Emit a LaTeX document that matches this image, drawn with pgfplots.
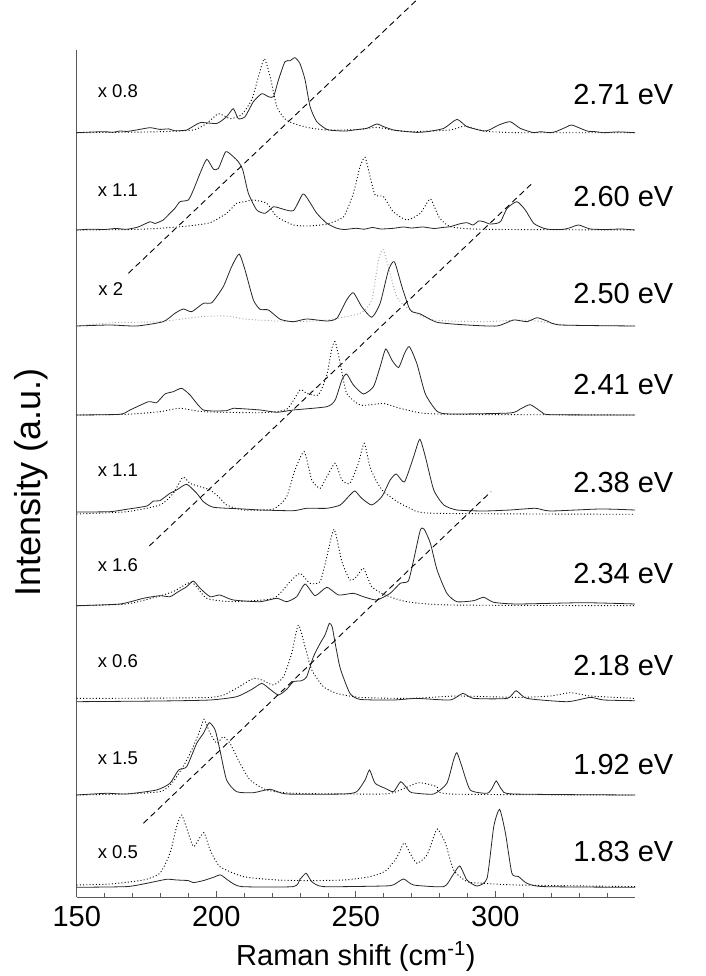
\documentclass[border=0pt]{standalone}
\usepackage{pgfplots}
\pgfplotsset{compat=1.18}
\usepackage{pgfplotstable}
\usepackage{fontspec}
\setmainfont{Liberation Sans}

% ---- 2.71 eV (baseline offset 764.3)
\pgfplotstableread{
x h
150 0
155 0.6
160 1
163 0.4
165.5 1.7
168 1.2
172 3
176.3 5
179.8 3.3
183 3.8
185 2
189.4 2.7
194.2 10
200.2 9.3
203.7 16
206.1 24
207.9 14
210.3 16
213.3 31
216.3 39
218.7 36
220.5 36
222.3 53
224.6 71
226.4 72
228.2 75
230.0 69
231.8 53
233.6 26
236.0 11
239.6 3.3
243 2
246.7 1.7
250 3
253.9 4.3
257.5 8.7
260 6
263.5 2.7
267 1.5
271.9 0.3
276 1.2
281.5 4.3
286.2 13.3
289.8 6
295.8 1.7
298 3
301.2 7.7
305.3 11
308.9 4.3
313.7 0
316 1
319.7 0
322 1.5
325.7 6
327.4 7.7
332.8 1.7
336 1
338.8 0
344 0.8
350 0
}\sA
\pgfplotstableread{
x h
150 0
170 0.5
179.8 1
191.8 2.7
196.6 9.3
200.8 19
205 14
209.1 18
212.7 33
215.1 56
217.2 74
219.3 56
221.7 26
224.5 14
227.6 9.3
233 5
239.6 2.7
250 3
257.5 5.3
263.5 2.5
269.4 1
283.8 2.7
289.2 6.7
295.8 1.7
307.7 0
350 0
}\dA
% ---- 2.60 eV (offset 667)
\pgfplotstableread{
x h
150 0
155 0.8
160 0.5
164 1.5
167.9 0.7
172 3
176.3 8.3
178 6.5
181 10
183.4 16.7
185.2 21.7
187 28.3
190 30
191.8 40
194.2 56.7
196.6 70.7
199 60.7
200.8 61.7
203.4 78.3
206.1 73.3
207.9 68.3
209.5 60
211.5 36.7
214.5 20
217.5 16.7
220.5 23.3
222.9 21.7
227.6 19.3
231 36
233 30
236 16.7
239.6 6.7
243.2 1.7
246 0.5
250 1.7
253 0.8
256 2.5
259 1
263.5 1.7
267 3
270 2
274 3
278 1.5
281 2.5
283.8 3.3
287 6
289.8 7.3
292 5
294 9
295.8 8.3
298 6
300.6 6.7
302 9
304.2 21.7
307.7 28.3
310.7 20
313.7 6.7
317.3 1.7
320 0.5
324.5 0.7
327 2.5
329.8 5
334 1
340 0.5
345 1
350 0
}\sB
\pgfplotstableread{
x h
150 0
170 0.5
179.8 1.7
190 4
197.8 7.3
203.7 16.7
207.3 26.7
210.3 28.3
213.3 30
218.1 26.7
221.7 13.3
227.6 5
233 4
239.6 6
245.6 13.3
249.1 36.7
251.5 63.3
253.3 72.7
255.1 53.3
256.9 35
259.9 33.3
263.5 18
268.3 10
273.1 16.7
276.7 31
279.7 13.3
283.8 3.3
295.8 0.7
350 0
}\dB
% ---- 2.50 eV (offset 571)
\pgfplotstableread{
x h
150 0
161.9 1
171.5 0
181 4.3
185.2 12.7
188.2 17
191.2 14.3
195.4 22.7
198.4 23.3
202.5 39.3
205.5 59.3
208.2 72
210.3 56
213.3 26
215.7 16.7
218.7 16
222.9 6.7
227.6 4.3
232.4 7
239.6 5
243.2 7.7
246.7 26
249.1 33.3
252.1 19.3
255.7 8.7
258.7 22.7
261.7 56
263.8 64.3
266.5 39.3
268.9 19.3
270.1 14.3
273.1 12
279.1 3.7
289.8 1
300.6 0
306.5 6
311.3 4.3
314.9 8.3
318.5 5
323.3 1
350 0
}\sC
\pgfplotstableread{
x h
150 0
163.1 3.3
179.8 4.3
194.2 9.3
203.7 10
210.9 6.7
227.6 4.3
239.6 6
251.5 12.7
255.7 26
258.1 66
259.7 76.7
261.7 59
264.7 29
269.5 16
277.9 6
295.8 4.3
307.7 6
314.9 5
325.7 1
350 0
}\dC
% ---- 2.41 eV (offset 482)
\pgfplotstableread{
x h
150 0
165.5 0.7
169.1 5
175.7 13.3
178.6 12.3
181.6 21
184.6 23.3
187.6 26.7
190.6 20
195.4 5
203.7 4.3
206.1 6.7
215.7 5
221.7 2.7
227.6 5
239.6 8.3
242.6 15
245 35
246.7 41
249.1 30
252.7 21
256.3 28.3
258.7 48.3
260.7 66
262.9 55
265.3 47.5
267.5 62
269.2 68.3
271.9 51
274.9 21
279.1 3.7
283.8 1
305.3 2
308.9 6
312.5 10.3
316.7 2.7
319.7 0.3
350 0
}\sD
\pgfplotstableread{
x h
150 0
167.9 0.7
179.8 3.3
187 6.7
195.4 3.3
215.7 2.3
225.2 5.7
230 25
232.4 21.7
236.6 20
239.6 40
241.4 66.7
242.6 73.3
244.4 51.7
246.7 21.7
251.5 10
256 10.5
260 11.5
265.9 6.7
274.3 1.7
290 0.5
350 0
}\dD
% ---- 2.38 eV (offset 385)
\pgfplotstableread{
x h
150 0
161.9 0.3
167.9 2.7
175.1 6
177.5 11
179.8 11.3
183.4 18.7
185.8 22
189.4 27.7
193 18.7
195.4 10.3
199 4.7
209.7 3
215.7 2
227.6 1.3
232.4 3.7
239.6 3.7
244.4 7
247.9 17
249.7 21
252.1 13.7
255.7 7
259.3 15.3
262.3 32
264.5 38
267.4 30
270.7 55.3
272.9 72.7
274.9 55.3
277.9 22
281.5 7
286.2 2
295.8 1
305.3 2
314.3 3.7
319.7 1
337.6 3
350 2
}\sE
\pgfplotstableread{
x h
150 -2
167.9 0.3
179.8 7
184.6 18.7
188 34.7
190.6 28.7
194.2 25.3
197.8 22
200.8 15.3
203.7 7
209.7 2
220.5 3
225.2 15.3
228.2 42
231.5 60.3
234.2 32
237.2 23.7
239.6 35.3
242.6 48.7
245 32
247.9 28.7
250.9 48.7
253 68.7
255.1 44.7
257.5 30
260 20
262.3 15.3
265 10
269.5 3.7
277.9 -1.3
350 -2.3
}\dE
% ---- 2.34 eV (offset 292)
\pgfplotstableread{
x h
150 -0.7
165.5 1
173.9 6.7
179.8 9.3
183.4 8.3
186.4 13.3
189.4 18.3
191.8 24
194.2 16.7
197.8 8.3
201.3 10
206.1 5
215.7 3.3
221.7 6.7
225.2 3.3
228.8 8.3
231.8 21
235.4 9.3
239.6 17.7
243.8 10
249.1 11.7
252.7 8.3
257.5 5
262.3 11.7
265.9 21.7
268.8 24
270.7 45
273.1 75
274.5 75.7
276.7 61.7
279.1 35
282.6 11.7
286.2 3.3
292.2 4.3
295.8 7.7
299.4 2.7
307.7 1
331.6 2.3
350 1
}\sF
\pgfplotstableread{
x h
150 -0.7
167.9 1
179.8 9
185 14
191.2 22.7
196.6 6.7
206.1 3.3
220.5 6.7
226.4 23.3
230 31.7
233.6 21.7
237.2 23.3
239.6 48.3
242.2 75.7
245 43.3
247.9 25
250.3 28.3
252.7 36.7
255.7 18.3
260.5 10
268.3 3.3
283.8 0
350 -0.7
}\dF
% ---- 2.18 eV (offset 195.3)
\pgfplotstableread{
x h
150 0
179.8 0.7
197.8 1.7
207.3 5
212.7 12.3
216.3 18.3
219.3 12.3
222.3 6.7
225.2 12.3
227.6 20
230.6 21
232.4 25
234.8 45
237.2 58.3
239 67
240.5 78.3
241.5 75
242.6 58.3
244 38
245 28.3
247.9 8.3
251.5 2.3
263.5 1.7
271.9 3.3
283.8 1.7
288.3 8.3
292.2 3.3
304.2 3.3
307.4 11
311.3 3.3
325.7 0
334 4.3
338.8 1.7
350 1
}\sG
\pgfplotstableread{
x h
150 3.3
197.8 4.3
206.1 11.7
213.3 23.3
216.9 21
220.5 16.7
224.1 25
227 48.3
229.4 76.7
231.8 55
234.2 31.7
238.4 15
243.2 8.3
251.5 4.3
269.4 3.3
286.2 5.7
307.7 4.3
319.7 5.7
326.9 9
334 5.7
350 3.3
}\dG
% ---- 1.92 eV (offset 102)
\pgfplotstableread{
x h
150 0
160.7 1.7
167.9 1
178.6 5
183.4 11.7
186.5 25
189.4 28.3
193 51.7
195.4 61.7
197.5 72.3
199.6 65
201.3 45
203.7 15
207.3 3.3
213.3 2.3
219.3 5.7
225.2 1
245.6 1
250.3 3.3
253.3 15
254.9 25
256.9 11.7
260.5 6.7
263.5 3.3
266.1 13.3
268.8 5
270.1 2.3
277.9 1
282.6 11.7
285 35
286.2 42.3
288 28.3
291 5
297 1.7
298.8 6.7
300.3 14
302.4 5
306.5 1
350 0
}\sH
\pgfplotstableread{
x h
150 0
179.8 3.3
187 23.3
191.2 45
194.2 65
195.6 75.7
197.8 61.7
200.2 51.7
202.5 58.3
204.9 51.7
208.5 31.7
212.1 15
218.1 5
227.6 1.7
260 1
265.9 5
272.5 12.3
279.1 8.3
283.8 1
350 0
}\dH
% ---- 1.83 eV (offset 9.7)
\pgfplotstableread{
x h
150 0
167.9 0.7
175.1 4
182.2 8
185.8 7.3
190 6.7
191.8 4.7
195.4 6.7
199 10
201.6 12.3
204.9 5.7
209.1 0.7
227.6 0.7
230 8
232.2 14
234.2 5.7
238.4 0.7
260 1.3
263.5 2.5
267.1 8.3
270.7 2.3
281.5 0.7
284.4 10.7
287.2 21.3
289.8 7.3
293.4 1.3
297 9
299.4 60.7
301.5 78
303.6 54
305.9 14
308.3 10.7
311.3 4
317.3 0.7
350 0
}\sI
\pgfplotstableread{
x h
150 2.3
161.9 3.3
173.9 7.3
179.8 14
183.4 34
185.8 60.7
187.6 72.3
190 54
191.8 40.7
193.6 47.3
195.6 54.7
197.8 37.3
201.3 20.7
209.7 10.7
221.7 7.3
233.6 6.7
245.6 7.3
253.9 10
258 13
261.1 17.3
264.7 30
267.3 44.5
269.4 34
271.9 24
275.5 32.3
277.9 50.7
279.3 58.3
282.1 44
285 17.3
289.8 5.7
295.8 4
307.7 2.3
350 0.7
}\dI

\begin{document}
\begin{tikzpicture}
\useasboundingbox (-76.7pt,-79pt) rectangle (628.3pt,897pt);
\begin{axis}[
  scale only axis, width=558.3pt, height=847pt,
  xmin=150, xmax=350, ymin=0, ymax=847,
  axis x line*=bottom, axis y line*=left,
  axis line style={black!65, line width=0.8pt},
  ytick=\empty,
  xtick={150,200,250,300},
  minor xtick={160,170,180,190,210,220,230,240,260,270,280,290,310,320,330,340},
  tick align=inside,
  major tick length=6pt, minor tick length=4pt,
  tick style={black!65, line width=0.8pt},
  /pgf/number format/assume math mode=true,
  xticklabel style={font=\fontsize{29}{30}\selectfont, inner sep=9pt},
  xlabel={Raman shift (cm\textsuperscript{-1})},
  xlabel style={font=\fontsize{29}{30}\selectfont, at={(axis description cs:0.5,0)}, anchor=base, yshift=-68pt},
  ylabel={Intensity (a.u.)},
  ylabel style={font=\fontsize{36}{40}\selectfont, at={(axis description cs:-0.0657,0.489)}, anchor=base},
  clip=false,
  solid/.style={black!85, line width=0.8pt, smooth, tension=0.35},
  dots/.style={black, line width=0.9pt, dash pattern=on 1pt off 2.2pt, smooth, tension=0.35},
  diag/.style={black, line width=0.9pt, dash pattern=on 6pt off 4pt},
]
% 2.71
\addplot[dots] table[x=x, y expr=\thisrow{h}+764.3] {\dA};
\addplot[solid] table[x=x, y expr=\thisrow{h}+764.3] {\sA};
% 2.60
\addplot[dots] table[x=x, y expr=\thisrow{h}+667] {\dB};
\addplot[solid] table[x=x, y expr=\thisrow{h}+667] {\sB};
% 2.50
\addplot[dots, black!35] table[x=x, y expr=\thisrow{h}+571] {\dC};
\addplot[solid] table[x=x, y expr=\thisrow{h}+571] {\sC};
% 2.41
\addplot[dots] table[x=x, y expr=\thisrow{h}+482] {\dD};
\addplot[solid] table[x=x, y expr=\thisrow{h}+482] {\sD};
% 2.38
\addplot[dots] table[x=x, y expr=\thisrow{h}+385] {\dE};
\addplot[solid] table[x=x, y expr=\thisrow{h}+385] {\sE};
% 2.34
\addplot[dots] table[x=x, y expr=\thisrow{h}+292] {\dF};
\addplot[solid] table[x=x, y expr=\thisrow{h}+292] {\sF};
% 2.18
\addplot[dots] table[x=x, y expr=\thisrow{h}+195.3] {\dG};
\addplot[solid] table[x=x, y expr=\thisrow{h}+195.3] {\sG};
% 1.92
\addplot[dots] table[x=x, y expr=\thisrow{h}+102] {\dH};
\addplot[solid] table[x=x, y expr=\thisrow{h}+102] {\sH};
% 1.83
\addplot[dots] table[x=x, y expr=\thisrow{h}+9.7] {\dI};
\addplot[solid] table[x=x, y expr=\thisrow{h}+9.7] {\sI};
% diagonal guide lines
\addplot[diag] coordinates {(168.5,623.7) (271.8,897)};
\addplot[diag] coordinates {(176.0,351) (313.4,714.3)};
\addplot[diag] coordinates {(173.9,73.7) (298.4,405.3)};
% energy labels
\begin{scope}[every node/.style={anchor=base east, font=\fontsize{29}{30}\selectfont, inner sep=0pt}]
\node at (axis cs:363.8,792) {2.71 eV};
\node at (axis cs:363.8,690.3) {2.60 eV};
\node at (axis cs:363.8,593.7) {2.50 eV};
\node at (axis cs:363.8,502) {2.41 eV};
\node at (axis cs:363.8,404.3) {2.38 eV};
\node at (axis cs:363.8,313.7) {2.34 eV};
\node at (axis cs:363.8,221) {2.18 eV};
\node at (axis cs:363.8,122) {1.92 eV};
\node at (axis cs:363.8,35.3) {1.83 eV};
\end{scope}
% scale factors
\begin{scope}[every node/.style={anchor=base west, font=\fontsize{18.5}{20}\selectfont, inner sep=0pt}]
\node at (axis cs:157.5,799.7) {x 0.8};
\node at (axis cs:157.5,700.3) {x 1.1};
\node at (axis cs:157.7,601) {x 2};
\node at (axis cs:157.5,420.3) {x 1.1};
\node at (axis cs:157.5,325.3) {x 1.6};
\node at (axis cs:157.5,229.7) {x 0.6};
\node at (axis cs:157.5,132) {x 1.5};
\node at (axis cs:157.5,38.7) {x 0.5};
\end{scope}
\end{axis}
\end{tikzpicture}
\end{document}
